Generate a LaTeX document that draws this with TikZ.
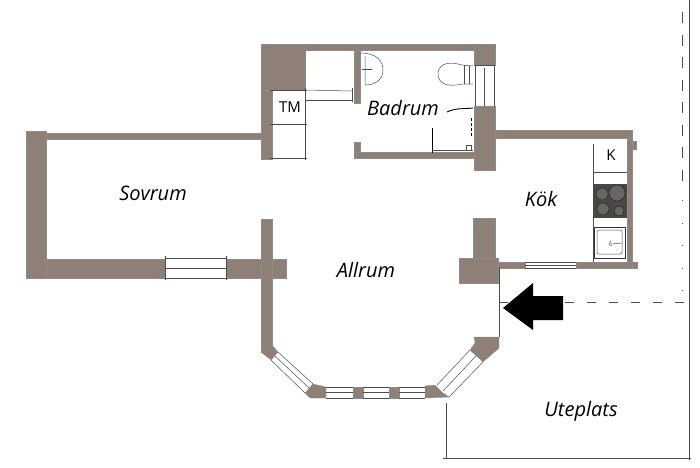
\documentclass[tikz,border=0pt]{standalone}
\usepackage{fontspec}
\setmainfont{Open Sans}
\definecolor{wallbrown}{HTML}{8E8076}
\definecolor{stovegrey}{HTML}{4A4642}
\tikzset{
  wall/.style={fill=wallbrown,draw=black!45,line width=.3pt},
  sketch/.style={draw=black!70,line width=.5pt},
  room/.style={font=\itshape\fontsize{20}{20}\selectfont,inner sep=0pt},
  tag/.style={font=\fontsize{15}{15}\selectfont,inner sep=0pt},
}
\begin{document}
\begin{tikzpicture}[x=1pt,y=-1pt]
  \useasboundingbox (0,0) rectangle (700,467);
  % straight walls
  \foreach \xa/\ya/\xb/\yb in{26/131/46/278, 46/133/261/139, 46/259/165/278,
    226/259/286/278, 261/219/272/352, 261/44/305/90, 261/90/272/159,
    305/44/474/50, 474/44/495/65, 354/50/360/103, 474/106/495/170,
    354/152/474/158, 354/142/360/152, 495/130/632/138, 627/138/632/267,
    498/262/525/268, 576/262/633/268, 473/218/495/258, 459/258/498/283,
    353/387/363/398, 389/387/399/398, 495/130/497/138, 632/141/636/149,
    632/262/637/268}{%
    \draw[wall](\xa,\ya)rectangle(\xb,\yb);
  }
  % corner pieces of the bay
  \draw[wall](261,352)--(272,345)--(278,352)--(271,360)--cycle;
  \draw[wall](305,393)--(313,384)--(326,387)--(326,398)--(310,398)--cycle;
  \draw[wall](425,386)--(435,385)--(443,393)--(449,397)--(425,398)--cycle;
  \draw[wall](474,337)--(499,337)--(499,348)--(483,362)--(470,350)--(475,343)--cycle;
  % windows
  \foreach \xa/\ya/\xb/\yb in{165/258/226/258, 165/268/226/268, 165/278/226/278,
    165/256/165/280, 226/256/226/280,
    525/262/576/262, 525/265/576/265, 525/268/576/268,
    475/65/475/106, 484/68/484/106, 494/65/494/106, 475/65/494/65,
    278/352/313/384, 275/356/309/388, 271/360/305/393,
    326/387/353/387, 326/392/353/392, 326/398/353/398,
    363/387/389/387, 363/392/389/392, 363/398/389/398,
    399/387/425/387, 399/392/425/392, 399/398/425/398,
    437/385/470/350, 443/391/476/356, 449/397/483/362}{%
    \draw[sketch](\xa,\ya)--(\xb,\yb);
  }
  % TM cabinet and door rails
  \foreach \xa/\ya/\xb/\yb in{270/90/307/90, 305/88/305/160, 270/124/307/124,
    270/158/307/158, 305/90/352/91, 305/100/352/100, 352/88/352/102}{%
    \draw[sketch](\xa,\ya)--(\xb,\yb);
  }
  % bathroom fittings
  \draw[sketch](360,53)..controls(378,53)and(383,62)..(383,70)
    ..controls(383,79)and(376,85)..(365,85)--(365,56);
  \draw[sketch](362,69)--(372,69);
  \draw[sketch](473,66)--(462,65)..controls(445,60)and(438,66)..(438,74)
    ..controls(438,82)and(445,88)..(462,84)--(473,84);
  \draw[sketch](464,65)--(464,84);
  \draw[sketch](469,66)--(469,84);
  \draw[black,line width=.9pt](447,112)..controls(455,108)and(463,109)..(473,108);
  \draw[black,line width=.7pt](432,128)--(432,153);
  \draw[sketch](432,150)--(473,150);
  \draw[black,line width=.8pt,dash pattern=on 3pt off 2pt](471,118)--(471,137);
  \draw[sketch](466,145)rectangle(471,150);
  % kitchen fittings
  \draw[sketch](593,144)--(593,262);
  \draw[sketch](593,172)--(627,172);
  \fill[stovegrey](593,184)rectangle(627,218);
  \foreach \x/\y/\r in{602/194/6, 617/193/8, 603/209/6, 619/211/5}{%
    \fill[black!60,draw=black!85,line width=.5pt](\x,\y)circle(\r);
  }
  \draw[black!80,line width=.7pt](594,227)rectangle(625,258);
  \draw[sketch,rounded corners=2pt](597,230)rectangle(622,254);
  \draw[sketch](611,244)--(622,243);
  \draw[sketch](611,241)--(609,244)--(612,246);
  % site lines
  \draw[sketch](499,267)--(499,337);
  \draw[sketch,dash pattern=on 9pt off 13pt](499,302)--(685,302);
  \draw[sketch,dash pattern=on 11pt off 11.5pt](682,12)--(682,181);
  \draw[sketch,dash pattern=on 1pt off 21.5pt](682,200)--(682,292);
  \draw[sketch](689,0)--(689,460);
  \draw[sketch](446,403)--(446,459);
  \draw[sketch](443,458)--(691,458);
  % entrance arrow
  \fill[black](503,308)--(533,283)--(533,296)--(563,296)--(563,320)--(533,320)--(533,330)--cycle;
  % rooms
  \foreach \x/\y/\n in{153/193/Sovrum, 403/108/Badrum, 366/270/Allrum,
    541/199/Kök, 581/411/Uteplats}{%
    \node[room] (\n) at (\x,\y) {\n};
  }
  \node[tag] (tm) at (290,107) {TM};
  \node[tag] (k) at (611,155) {K};
\end{tikzpicture}
\end{document}
